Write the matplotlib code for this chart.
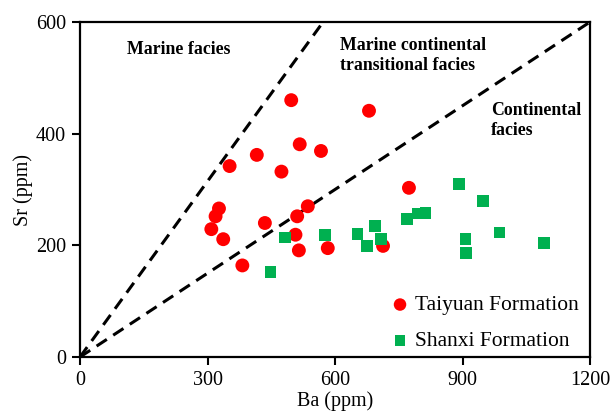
import matplotlib
matplotlib.use("Agg")
import matplotlib.pyplot as plt

# Data
taiyuan_ba = [497, 680, 517, 567, 416, 352, 474, 774, 327, 536, 319, 511, 309, 435, 337, 507, 515, 583, 713, 382]
taiyuan_sr = [460, 441, 381, 369, 362, 342, 332, 303, 266, 270, 252, 252, 229, 240, 211, 219, 191, 195, 199, 164]
shanxi_ba = [483, 577, 653, 695, 709, 676, 448, 770, 794, 813, 892, 949, 987, 907, 909, 1091]
shanxi_sr = [214, 218, 220, 235, 212, 199, 152, 247, 257, 258, 310, 280, 223, 211, 186, 204]
line1_ba = [0, 572]
line1_sr = [0, 600]
line2_ba = [0, 1200]
line2_sr = [0, 600]
xticks = [0, 300, 600, 900, 1200]
yticks = [0, 200, 400, 600]

plt.rcParams['font.family'] = ['Liberation Serif', 'DejaVu Serif']

fig = plt.figure(figsize=(6.11, 4.17), dpi=100)
ax = fig.add_axes([80/611, 60/417, 510/611, 335/417])

ax.plot(line1_ba, line1_sr, color='black', linestyle=(0, (4, 2.5)), linewidth=2.2, zorder=1)
ax.plot(line2_ba, line2_sr, color='black', linestyle=(0, (4, 2.5)), linewidth=2.2, zorder=1)

ax.scatter(taiyuan_ba, taiyuan_sr, s=100, marker='o', color='#ff0000', edgecolors='none',
           label='Taiyuan Formation', zorder=3)
ax.scatter(shanxi_ba, shanxi_sr, s=72, marker='s', color='#00b050', edgecolors='none',
           label='Shanxi Formation', zorder=3)

ax.set_xlim(0, 1200)
ax.set_ylim(0, 600)
ax.set_xticks(xticks)
ax.set_yticks(yticks)
ax.tick_params(axis='both', direction='out', length=6, width=1.5, labelsize=14.5, pad=4)
for side in ['left', 'bottom', 'top', 'right']:
    ax.spines[side].set_linewidth(1.6)

ax.set_xlabel('Ba (ppm)', fontsize=14.5, labelpad=1)
ax.set_ylabel('Sr (ppm)', fontsize=14.5, labelpad=2)

ax.text(233, 550, 'Marine facies', fontsize=12.8, fontweight='bold', ha='center', va='center')
ax.text(612, 540, 'Marine continental\ntransitional facies', fontsize=12.8, fontweight='bold',
        ha='left', va='center', linespacing=1.25)
ax.text(967, 423, 'Continental\nfacies', fontsize=12.8, fontweight='bold',
        ha='left', va='center', linespacing=1.25)

ax.legend(loc='lower right', frameon=False, fontsize=15.5, handletextpad=0.1, handlelength=1.2,
          borderaxespad=0.0, labelspacing=0.75, bbox_to_anchor=(0.995, -0.009), markerscale=0.9)

fig.savefig('out.png', dpi=100)
